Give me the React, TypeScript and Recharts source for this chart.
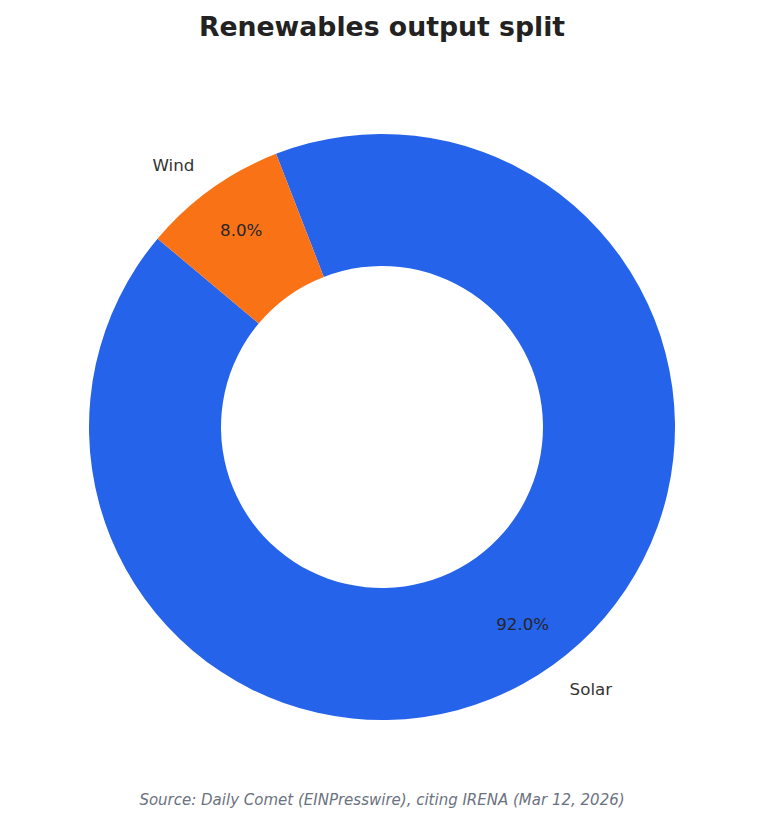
import React from "react";
import { PieChart, Pie, Cell } from "recharts";

const categories = ["Solar", "Wind"];
const shares = [92.0, 8.0];
const colors = ["#2563EB", "#F97316"];

const TITLE = "Renewables output split";
const SOURCE = "Source: Daily Comet (EINPresswire), citing IRENA (Mar 12, 2026)";

const data = categories.map((name, i) => ({ name, value: shares[i] }));

const RAD = Math.PI / 180;
const FONT = "'DejaVu Sans', sans-serif";

const renderLabel = (props: any) => {
  const { cx, cy, midAngle, outerRadius, name, value } = props;
  const cos = Math.cos(-midAngle * RAD);
  const sin = Math.sin(-midAngle * RAD);
  const rl = outerRadius * 1.1;
  const rp = outerRadius * 0.825;
  const lx = cx + rl * cos;
  const ly = cy + rl * sin;
  const px = cx + rp * cos;
  const py = cy + rp * sin;
  return (
    <g>
      <text
        x={lx}
        y={ly}
        textAnchor={lx > cx ? "start" : "end"}
        dominantBaseline="central"
        fontFamily={FONT}
        fontSize={16.7}
        fill="#333333"
      >
        {name}
      </text>
      <text
        x={px}
        y={py}
        textAnchor="middle"
        dominantBaseline="central"
        fontFamily={FONT}
        fontSize={16.7}
        fill="#262626"
      >
        {`${Number(value).toFixed(1)}%`}
      </text>
    </g>
  );
};

export default function App() {
  return (
    <div
      style={{
        position: "absolute",
        left: 0,
        top: 0,
        width: 764,
        height: 824,
        background: "#ffffff",
        fontFamily: FONT,
      }}
    >
      <div
        style={{
          position: "absolute",
          left: 0,
          top: 27,
          width: 764,
          transform: "translateY(-50%)",
          textAlign: "center",
          fontSize: 26.7,
          fontWeight: "bold",
          lineHeight: 1,
          color: "#222222",
        }}
      >
        {TITLE}
      </div>
      <PieChart width={764} height={824} margin={{ top: 0, right: 0, bottom: 0, left: 0 }}>
        <Pie
          data={data}
          dataKey="value"
          nameKey="name"
          cx={382}
          cy={427}
          innerRadius={161}
          outerRadius={293}
          startAngle={140}
          endAngle={500}
          stroke="none"
          label={renderLabel}
          labelLine={false}
          isAnimationActive={false}
        >
          {data.map((d, i) => (
            <Cell key={d.name} fill={colors[i]} />
          ))}
        </Pie>
      </PieChart>
      <div
        style={{
          position: "absolute",
          left: 0,
          top: 800,
          width: 764,
          transform: "translateY(-50%)",
          textAlign: "center",
          fontSize: 15,
          fontStyle: "italic",
          lineHeight: 1,
          color: "#6B7280",
        }}
      >
        {SOURCE}
      </div>
    </div>
  );
}
